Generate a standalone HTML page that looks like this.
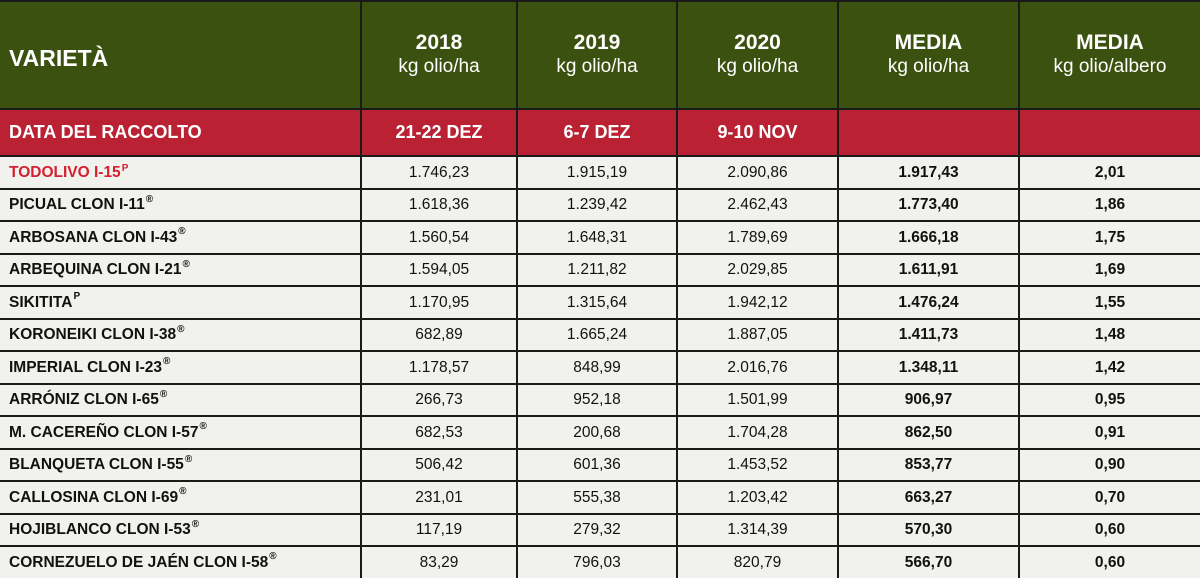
<!DOCTYPE html><html><head><meta charset="utf-8"><style>
body{margin:0;width:1200px;height:578px;overflow:hidden;background:#1a1a1a;font-family:"Liberation Sans",Arial,sans-serif}
.c{position:absolute;box-sizing:border-box;display:flex;align-items:center;justify-content:center;font-size:15.5px;color:#111}
.g{background:#3b5110;color:#fff;flex-direction:column;font-size:19px;line-height:24px}
.g b{font-size:21px}
.g0{background:#3b5110;color:#fff}
.r{background:#ba2234;color:#fff;font-weight:bold;font-size:18px}
.w{background:#f1f2ee}
.l{justify-content:flex-start;padding-left:9px;font-weight:bold}
.b{font-weight:bold}
sup{font-size:10px;position:relative;top:-6px;vertical-align:baseline;margin-left:1px}
</style></head><body>
<script>
const X=[0,361,517,677,838,1019,1200];
const rows=[
["TODOLIVO I-15<sup>P</sup>","1.746,23","1.915,19","2.090,86","1.917,43","2,01"],
["PICUAL CLON I-11<sup>®</sup>","1.618,36","1.239,42","2.462,43","1.773,40","1,86"],
["ARBOSANA CLON I-43<sup>®</sup>","1.560,54","1.648,31","1.789,69","1.666,18","1,75"],
["ARBEQUINA CLON I-21<sup>®</sup>","1.594,05","1.211,82","2.029,85","1.611,91","1,69"],
["SIKITITA<sup>P</sup>","1.170,95","1.315,64","1.942,12","1.476,24","1,55"],
["KORONEIKI CLON I-38<sup>®</sup>","682,89","1.665,24","1.887,05","1.411,73","1,48"],
["IMPERIAL CLON I-23<sup>®</sup>","1.178,57","848,99","2.016,76","1.348,11","1,42"],
["ARRÓNIZ CLON I-65<sup>®</sup>","266,73","952,18","1.501,99","906,97","0,95"],
["M. CACEREÑO CLON I-57<sup>®</sup>","682,53","200,68","1.704,28","862,50","0,91"],
["BLANQUETA CLON I-55<sup>®</sup>","506,42","601,36","1.453,52","853,77","0,90"],
["CALLOSINA CLON I-69<sup>®</sup>","231,01","555,38","1.203,42","663,27","0,70"],
["HOJIBLANCO CLON I-53<sup>®</sup>","117,19","279,32","1.314,39","570,30","0,60"],
["CORNEZUELO DE JAÉN CLON I-58<sup>®</sup>","83,29","796,03","820,79","566,70","0,60"]];
let h='';
function cell(i,y0,y1,cls,html){h+=`<div class="c ${cls}" style="left:${X[i]+(i?1:0)}px;top:${y0}px;width:${X[i+1]-X[i]-(i?1:0)-(i==5?0:1)}px;height:${y1-y0-2}px">${html}</div>`}
const hd=[["VARIETÀ"],["2018","kg olio/ha"],["2019","kg olio/ha"],["2020","kg olio/ha"],["MEDIA","kg olio/ha"],["MEDIA","kg olio/albero"]];
hd.forEach((t,i)=>cell(i,2,110,i==0?'g0 l':'g',i==0?'<b style="font-size:23px;padding-top:6px">VARIETÀ</b>':`<b>${t[0]}</b><span>${t[1]}</span>`));
["DATA DEL RACCOLTO","21-22 DEZ","6-7 DEZ","9-10 NOV","",""].forEach((t,i)=>cell(i,110,157,'r'+(i==0?' l':''),t));
rows.forEach((r,j)=>{const y0=Math.round(155+j*32.5)+2,y1=Math.round(155+(j+1)*32.5)+2;
r.forEach((t,i)=>cell(i,y0,Math.min(y1,580),'w'+(i==0?' l':'')+(i>=4?' b':''),i==0&&j==0?`<span style="color:#d42030">${t}</span>`:t));});
document.write(h);
</script>
</body></html>
